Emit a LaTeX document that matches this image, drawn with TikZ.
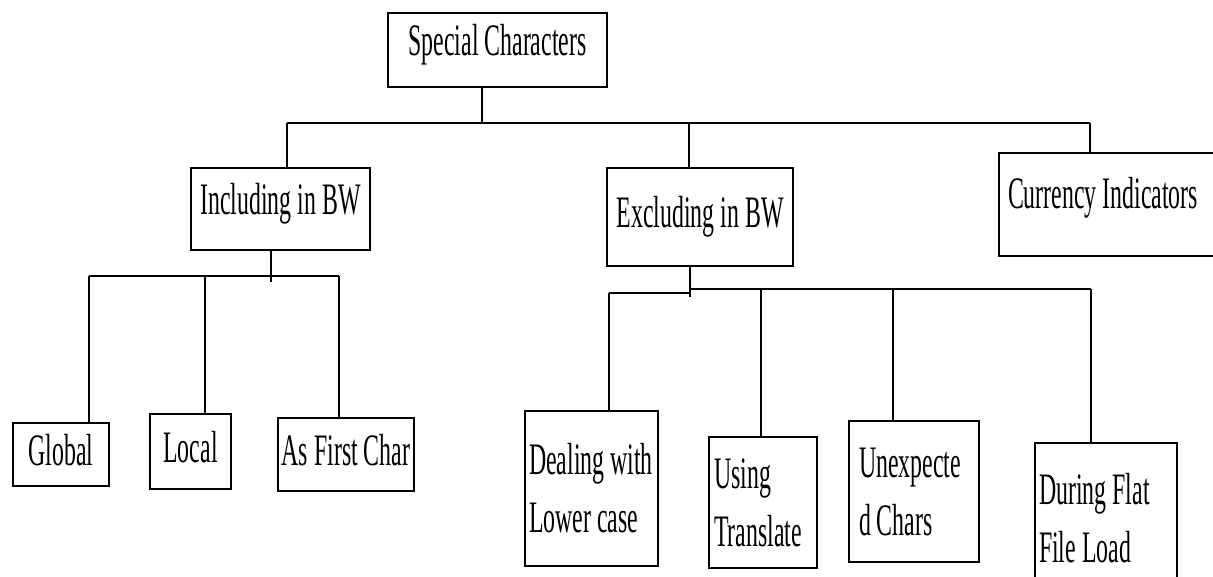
\documentclass[tikz,border=0pt]{standalone}
\usepackage{fontspec}
\setmainfont{Liberation Serif}[FakeStretch=0.53]
\usetikzlibrary{positioning,calc}

\begin{document}
\begin{tikzpicture}[x=1pt, y=-1pt,
        box/.style={draw, line width=2pt, rectangle, anchor=north west, inner sep=2pt,
            font=\fontsize{45}{58}\selectfont, text height=31pt, text depth=9pt,
            execute at begin node={\spaceskip=6pt plus 1pt\relax}},
        multi/.style={box, align=left, text height=, text depth=},
        link/.style={draw, line width=1.5pt},
        bar/.style={draw, line width=2.5pt}]
        \useasboundingbox (0,0) rectangle (1213,577);
        %nodes
        \node[box, minimum width=219, minimum height=74, text depth=19pt] (spc) at (387,12) {Special Characters};
        \node[box, minimum width=179, minimum height=82, text depth=19pt] (inc) at (190,167) {Including in BW};
        \node[box, minimum width=186, minimum height=98] (exc) at (606,167) {Excluding in BW};
        \node[box, align=left, inner xsep=9pt, text width=230, minimum height=103, text depth=23pt] (cur) at (998,152) {Currency Indicators};
        \node[box, minimum width=96, minimum height=63] (glb) at (12,422) {Global};
        \node[box, minimum width=81, minimum height=75] (loc) at (149,413) {Local};
        \node[box, minimum width=136, minimum height=73] (fst) at (277,417) {As First Char};
        \node[multi, inner xsep=4pt, text width=125, minimum height=155] (dlc) at (524,410) {Dealing with\\Lower case};
        \node[multi, inner xsep=5pt, text width=98, minimum height=131] (utr) at (708,436) {Using\\Translate};
        \node[multi, inner xsep=10pt, text width=110, minimum height=141] (uch) at (848,420) {Unexpecte\\d Chars};
        \node[multi, inner xsep=4pt, text width=134, minimum height=150] (dff) at (1034,442) {During Flat\\File Load};
        %junctions
        \coordinate (top) at (482,123);
        \coordinate (b1) at (287,123);
        \coordinate (b2) at (689,123);
        \coordinate (b3) at (1090,123);
        \coordinate (i0) at (271,276);
        \coordinate (i1) at (89,276);
        \coordinate (i2) at (205,276);
        \coordinate (i3) at (339,276);
        \coordinate (e0) at (690,293);
        \coordinate (e1) at (609,293);
        \coordinate (e2) at (761,289);
        \coordinate (e3) at (893,289);
        \coordinate (e4) at (1091,289);
        %edges
        \path [link] (spc.south -| top) -- (top);
        \path [bar] (b1) -- (b3);
        \path [link] (b1) -- (inc.north -| b1);
        \path [link] (b2) -- (exc.north -| b2);
        \path [link] (b3) -- (cur.north -| b3);
        \path [link] (inc.south -| i0) -- ($(i0)+(0,6)$);
        \path [bar] (i1) -- (i3);
        \path [link] (i1) -- (glb.north -| i1);
        \path [link] (i2) -- (loc.north -| i2);
        \path [link] (i3) -- (fst.north -| i3);
        \path [link] (exc.south -| e0) -- ($(e0)+(0,4)$);
        \path [bar] (e1) -- (e0);
        \path [bar] (e0 |- e2) -- (e4);
        \path [link] (e1) -- (dlc.north -| e1);
        \path [link] (e2) -- (utr.north -| e2);
        \path [link] (e3) -- (uch.north -| e3);
        \path [link] (e4) -- (dff.north -| e4);
      \end{tikzpicture}
\end{document}
